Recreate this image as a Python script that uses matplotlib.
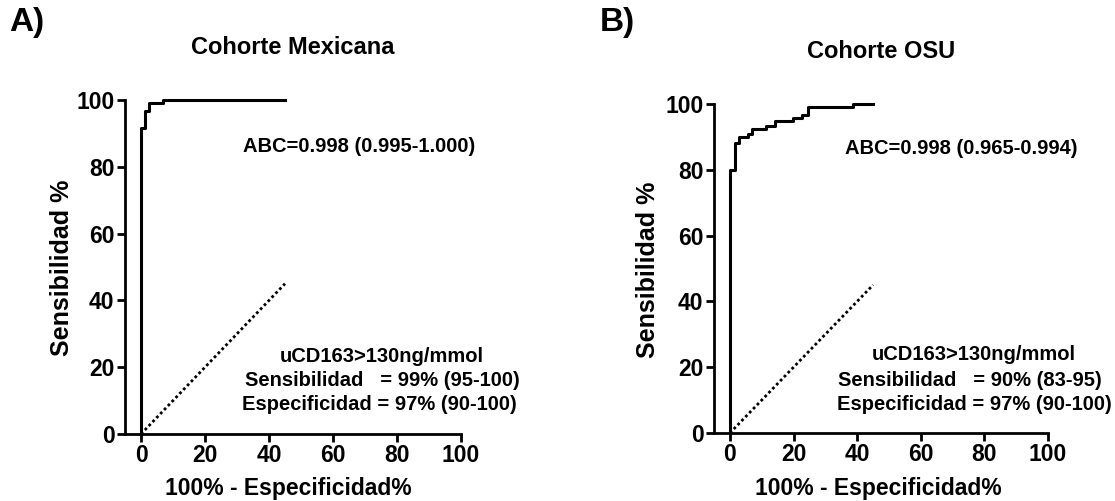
import matplotlib
matplotlib.use("Agg")
import matplotlib.pyplot as plt

plt.rcParams['font.family'] = ['Liberation Sans', 'DejaVu Sans']
plt.rcParams['font.weight'] = 'bold'

# ---- data ----
# Panel A: Cohorte Mexicana (step ROC curve, 100%-specificity vs sensitivity)
fpr_a = [0.0, 0.0, 1.2, 2.6, 6.9, 45.0]
tpr_a = [0.0, 91.5, 96.7, 99.2, 100.0, 100.0]

# Panel B: Cohorte OSU
fpr_b = [0.0, 0.0, 1.6, 2.9, 5.7, 7.1, 11.5, 14.2, 19.9, 22.8, 24.4, 38.6, 45.0]
tpr_b = [0.0, 80.0, 88.0, 90.0, 91.0, 92.5, 93.3, 94.8, 95.6, 96.6, 99.0, 100.0, 100.0]

# reference line (chance)
ref_x = [0, 45]
ref_y = [0, 45]

ticks = [0, 20, 40, 60, 80, 100]

titles = ["Cohorte Mexicana", "Cohorte OSU"]
panel_labels = ["A)", "B)"]
abc_texts = ["ABC=0.998 (0.995-1.000)", "ABC=0.998 (0.965-0.994)"]
cut_text = "uCD163>130ng/mmol"
sens_texts = ["Sensibilidad   = 99% (95-100)", "Sensibilidad   = 90% (83-95)"]
spec_texts = ["Especificidad = 97% (90-100)", "Especificidad = 97% (90-100)"]
xlabel = "100% - Especificidad%"
ylabel = "Sensibilidad %"

W, H = 1115, 501
fig = plt.figure(figsize=(W / 100, H / 100), dpi=100)

def fx(px):
    return px / W

def fy(py):
    return 1 - py / H

axes_pos = [
    [fx(125), fy(434), fx(461) - fx(125), fy(100) - fy(434)],
    [fx(714), fy(433), fx(1048) - fx(714), fy(104) - fy(433)],
]
curves = [(fpr_a, tpr_a), (fpr_b, tpr_b)]

for i, pos in enumerate(axes_pos):
    ax = fig.add_axes(pos)
    fx_, ty_ = curves[i]
    ax.plot(fx_, ty_, drawstyle='steps-post', color='black', lw=2.2, clip_on=False)
    ax.plot(ref_x, ref_y, color='black', lw=2.0, linestyle=(0, (1, 1)), clip_on=False)
    ax.set_xlim(-5, 100)
    ax.set_ylim(0, 100)
    ax.set_xticks(ticks)
    ax.set_yticks(ticks)
    for s in ['top', 'right']:
        ax.spines[s].set_visible(False)
    for s in ['left', 'bottom']:
        ax.spines[s].set_linewidth(2)
    ax.tick_params(direction='out', length=5.5, width=2, labelsize=16.5, pad=2)
    for lab in ax.get_xticklabels() + ax.get_yticklabels():
        lab.set_fontweight('bold')

# axis labels
fig.text(fx(288), fy(488), xlabel, ha='center', va='center', fontsize=16.5, fontweight='bold')
fig.text(fx(878), fy(488), xlabel, ha='center', va='center', fontsize=16.5, fontweight='bold')
fig.text(fx(62), fy(268), ylabel, ha='center', va='center', rotation=90, fontsize=18, fontweight='bold')
fig.text(fx(648), fy(270), ylabel, ha='center', va='center', rotation=90, fontsize=18, fontweight='bold')

# titles and panel labels
fig.text(fx(293), fy(48), titles[0], ha='center', va='center', fontsize=17, fontweight='bold')
fig.text(fx(881), fy(51), titles[1], ha='center', va='center', fontsize=17, fontweight='bold')
fig.text(fx(27), fy(23), panel_labels[0], ha='center', va='center', fontsize=24, fontweight='bold')
fig.text(fx(617), fy(23), panel_labels[1], ha='center', va='center', fontsize=24, fontweight='bold')

# annotations
fs = 14.5
fig.text(fx(243), fy(147), abc_texts[0], ha='left', va='center', fontsize=fs, fontweight='bold')
fig.text(fx(845), fy(148), abc_texts[1], ha='left', va='center', fontsize=fs, fontweight='bold')

fig.text(fx(382), fy(357), cut_text, ha='center', va='center', fontsize=fs, fontweight='bold')
fig.text(fx(245), fy(381), sens_texts[0], ha='left', va='center', fontsize=fs, fontweight='bold')
fig.text(fx(242), fy(405), spec_texts[0], ha='left', va='center', fontsize=fs, fontweight='bold')

fig.text(fx(974), fy(355), cut_text, ha='center', va='center', fontsize=fs, fontweight='bold')
fig.text(fx(838), fy(380), sens_texts[1], ha='left', va='center', fontsize=fs, fontweight='bold')
fig.text(fx(837), fy(405), spec_texts[1], ha='left', va='center', fontsize=fs, fontweight='bold')

fig.savefig("out.png", dpi=100)
